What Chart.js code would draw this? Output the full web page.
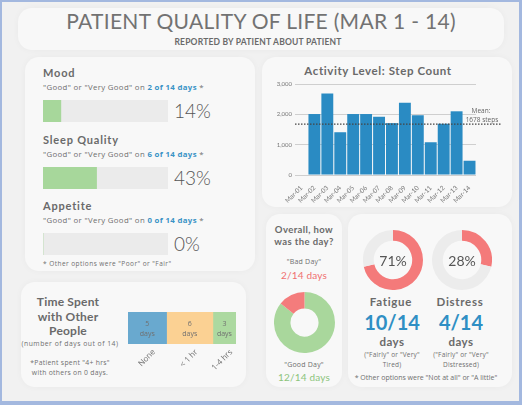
<!DOCTYPE html>
<html>
<head>
<meta charset="utf-8">
<script src="https://cdn.jsdelivr.net/npm/chart.js@4.4.0/dist/chart.umd.min.js"></script>
<style>
  html, body { margin: 0; padding: 0; }
  body { width: 522px; height: 405px; background: #a3b8df; position: relative; overflow: hidden; font-family: Lato, "Open Sans", sans-serif; }
  #page { position: absolute; left: 2px; top: 2px; width: 517px; height: 399px; background: #f1f1f1; }
  .panel { position: absolute; background: #f8f8f8; border-radius: 14px; box-shadow: 0 0 7px rgba(0,0,0,0.035); }
  .t { position: absolute; white-space: nowrap; color: #666; }
  .s { font-family: "Open Sans", sans-serif; color: #6f6f6f; }
  .c { transform: translateX(-50%); text-align: center; }
  .h { font-weight: 700; color: #6a6a6a; letter-spacing: 0.5px; }
  canvas { position: absolute; }
  .blue { color: #3a93c6; font-weight: 700; }
</style>
</head>
<body>
<div id="page"></div>
<script>
// ---- data ----
const totalDays = 14;
const ratingItems = ['Mood', 'Sleep Quality', 'Appetite'];
const ratingGoodDays = [2, 6, 0];
const ratingPct = ['14%', '43%', '0%'];

const stepDays = ['Mar-01','Mar-02','Mar-03','Mar-04','Mar-05','Mar-06','Mar-07',
                  'Mar-08','Mar-09','Mar-10','Mar-11','Mar-12','Mar-13','Mar-14'];
const stepCounts = [0, 2010, 2690, 1410, 2010, 2010, 1920, 1710, 2380, 1970, 1080, 1690, 2100, 470];
const meanSteps = 1678;

const timeSpentLabels = ['None', '< 1 hr', '1-4 hrs'];
const timeSpentDays = [5, 6, 3];
const timeSpentColors = ['#69a9cf', '#fbd193', '#acd9a0'];

const dayRatingLabels = ['"Good Day"', '"Bad Day"'];
const dayRatingDays = [12, 2];

const symptomNames = ['Fatigue', 'Distress'];
const symptomDays = [10, 4];
const symptomPct = ['71%', '28%'];
const symptomNotes = [['("Fairly" or "Very"', 'Tired)'], ['("Fairly" or "Very"', 'Distressed)']];

Chart.defaults.font.family = 'Lato';
Chart.defaults.animation = false;
Chart.defaults.plugins.legend.display = false;
Chart.defaults.plugins.tooltip.enabled = false;

const page = document.body;

function txt(html, x, y, size, extra, spacing) {
    let d = document.createElement('div');
    d.className = 't ' + (extra || '');
    d.style.left = x + 'px';
    d.style.top = y + 'px';
    d.style.fontSize = size + 'px';
    if (spacing != null) d.style.letterSpacing = spacing + 'px';
    d.innerHTML = html;
    page.appendChild(d);
    return d;
}
function panel(x, y, w, h) {
    let d = document.createElement('div');
    d.className = 'panel';
    d.style.cssText = `left:${x}px;top:${y}px;width:${w}px;height:${h}px`;
    page.appendChild(d);
}
function canvasAt(x, y, w, h) {
    let c = document.createElement('canvas');
    c.width = w; c.height = h;
    c.style.left = x + 'px'; c.style.top = y + 'px';
    c.style.width = w + 'px'; c.style.height = h + 'px';
    page.appendChild(c);
    return c;
}

// panels
panel(18, 8, 486, 42);
panel(25, 57, 230, 214);
panel(262, 57, 250, 150);
panel(21, 282, 225, 105);
panel(266, 214, 76, 173);
panel(348, 214, 164, 173);

// header
txt('PATIENT QUALITY OF LIFE (MAR 1 - 14)', 261, 8, 21, 'c', 0.3).style.color = '#727272';
txt('REPORTED BY PATIENT ABOUT PATIENT', 258, 37, 8.5, 'c h', 0.2);

// ---- ratings (mood / sleep / appetite) ----
const ratingTop = [66, 133, 199];
ratingItems.forEach((name, i) => {
    let y = ratingTop[i];
    txt(name, 43, y, 11, 'h', 0.8);
    txt('"Good" or "Very Good" on <span class="blue">' + ratingGoodDays[i] + ' of ' + totalDays + ' days</span> *', 43, y + 16, 7.8, 's', 0.35);
    let c = canvasAt(43, y + 34, 125, 22);
    new Chart(c, {
        type: 'bar',
        data: {
            labels: [name],
            datasets: [
                { data: [ratingGoodDays[i]], backgroundColor: '#a7d79b' },
                { data: [totalDays - ratingGoodDays[i]], backgroundColor: '#ebebeb' }
            ]
        },
        options: {
            indexAxis: 'y', responsive: false,
            barPercentage: 1, categoryPercentage: 1,
            layout: { padding: 0 },
            scales: {
                x: { stacked: true, display: false, min: 0, max: totalDays },
                y: { stacked: true, display: false }
            }
        }
    });
    txt(ratingPct[i], 174, y + 33, 19).style.cssText += ';color:#555;font-weight:300';
});
txt('* Other options were "Poor" or "Fair"', 43, 259, 6.5, 's', 0.45);

// ---- step count ----
txt('Activity Level: Step Count', 378, 64, 11.5, 'c h', 0.6);

const meanLine = {
    id: 'meanLine',
    afterDatasetsDraw(chart) {
        const a = chart.chartArea;
        const y = chart.scales.y.getPixelForValue(meanSteps);
        const ctx = chart.ctx;
        ctx.save();
        ctx.setLineDash([1.5, 1.5]);
        ctx.strokeStyle = '#444';
        ctx.lineWidth = 1.2;
        ctx.beginPath();
        ctx.moveTo(a.left, y);
        ctx.lineTo(a.right + 25, y);
        ctx.stroke();
        ctx.setLineDash([]);
        ctx.fillStyle = '#666';
        ctx.font = '6.5px "Open Sans"';
        ctx.textAlign = 'center';
        ctx.fillText('Mean:', a.right + 5, y - 11);
        ctx.fillText(meanSteps + ' steps', a.right + 6, y - 2);
        ctx.restore();
    }
};

new Chart(canvasAt(262, 75, 250, 128), {
    type: 'bar',
    data: {
        labels: stepDays,
        datasets: [{ data: stepCounts, backgroundColor: '#2a8bc3', barPercentage: 0.92, categoryPercentage: 1 }]
    },
    options: {
        responsive: false,
        layout: { padding: { top: 9, right: 36, left: 0, bottom: 0 } },
        scales: {
            y: {
                min: 0, max: 3000,
                ticks: { stepSize: 1000, font: { size: 6 }, color: '#777', padding: 3 },
                grid: { color: '#cfcfcf', drawTicks: false },
                border: { display: false },
                afterFit(s) { s.width = 33; }
            },
            x: {
                ticks: { font: { size: 6.5 }, color: '#777', minRotation: 45, maxRotation: 45, autoSkip: false, padding: 1 },
                grid: { display: false },
                border: { display: false },
                afterFit(s) { s.height = 28; }
            }
        }
    },
    plugins: [meanLine]
});

// ---- time spent with other people ----
txt('Time Spent<br>with Other<br>People', 68, 295, 12, 'c h', 0.2).style.lineHeight = '14.5px';
txt('(number of days out of 14)', 70, 339, 6.8, 'c s', 0.5);
txt('*Patient spent "4+ hrs"<br>with others on 0 days.', 70, 358, 6.8, 'c s', 0.3).style.lineHeight = '10px';

const segLabels = {
    id: 'segLabels',
    afterDatasetsDraw(chart) {
        const ctx = chart.ctx;
        ctx.save();
        chart.data.datasets.forEach((ds, i) => {
            const bar = chart.getDatasetMeta(i).data[0];
            const cx = (bar.x + bar.base) / 2;
            ctx.fillStyle = '#707070';
            ctx.font = '7px "Open Sans"';
            ctx.textAlign = 'center';
            ctx.fillText(String(ds.data[0]), cx, bar.y - 2);
            ctx.fillText('days', cx, bar.y + 8);
            ctx.save();
            ctx.translate(cx + 4, bar.y + bar.height / 2 + 4);
            ctx.rotate(-Math.PI / 4);
            ctx.font = '8px "Open Sans"';
            ctx.textAlign = 'right';
            ctx.textBaseline = 'top';
            ctx.fillText(ds.label, 0, 0);
            ctx.restore();
        });
        ctx.restore();
    }
};

new Chart(canvasAt(120, 304, 126, 78), {
    type: 'bar',
    data: {
        labels: ['days'],
        datasets: timeSpentLabels.map((l, i) => ({
            label: l, data: [timeSpentDays[i]], backgroundColor: timeSpentColors[i]
        }))
    },
    options: {
        indexAxis: 'y', responsive: false,
        barPercentage: 1, categoryPercentage: 1,
        layout: { padding: { left: 8, right: 10, top: 8, bottom: 38 } },
        scales: {
            x: { stacked: true, display: false, min: 0, max: totalDays },
            y: { stacked: true, display: false }
        }
    },
    plugins: [segLabels]
});

// ---- overall day rating ----
txt('Overall, how<br>was the day?', 304, 224, 9.5, 'c h', 0.4).style.lineHeight = '12px';
txt(dayRatingLabels[1], 304, 257, 7, 'c s', 0.2);
txt(dayRatingDays[1] + '/' + totalDays + ' days', 304, 269, 10, 'c', 0.2).style.color = '#f06f6f';
new Chart(canvasAt(274, 292, 61, 61), {
    type: 'doughnut',
    data: {
        labels: dayRatingLabels,
        datasets: [{ data: dayRatingDays, backgroundColor: ['#a9d79c', '#f47c7c'], borderWidth: 0 }]
    },
    options: { responsive: false, cutout: '46%', layout: { padding: 0 } }
});
txt(dayRatingLabels[0], 304, 360, 7, 'c s', 0.2);
txt(dayRatingDays[0] + '/' + totalDays + ' days', 304, 371, 10, 'c', 0.2).style.color = '#8cc47c';

// ---- fatigue / distress ----
const centerText = {
    id: 'centerText',
    afterDraw(chart, args, opts) {
        const m = chart.getDatasetMeta(0).data[0];
        const ctx = chart.ctx;
        ctx.save();
        ctx.fillStyle = '#555';
        ctx.font = '14px Lato';
        ctx.textAlign = 'center';
        ctx.textBaseline = 'middle';
        ctx.fillText(opts.text, m.x, m.y + 1);
        ctx.restore();
    }
};
const symptomX = [393, 462];
symptomNames.forEach((name, i) => {
    let cx = symptomX[i];
    new Chart(canvasAt(cx - 30, 230, 60, 60), {
        type: 'doughnut',
        data: {
            labels: ['yes', 'no'],
            datasets: [{ data: [symptomDays[i], totalDays - symptomDays[i]], backgroundColor: ['#f47a7a', '#ececec'], borderWidth: 0 }]
        },
        options: {
            responsive: false, cutout: '64%', layout: { padding: 0 },
            plugins: { centerText: { text: symptomPct[i] } }
        },
        plugins: [centerText]
    });
    txt(name, cx - 2, 295, 11.5, 'c h', 0.7);
    txt(symptomDays[i] + '/' + totalDays, cx - 1, 310, 20, 'c').style.cssText += ';color:#2f8fc4;font-weight:700';
    txt('days', cx - 1, 335, 11.5, 'c h', 0.5);
    txt(symptomNotes[i].join('<br>'), cx - 1, 350, 6.5, 'c s', 0.2).style.lineHeight = '9.5px';
});
txt('* Other options were "Not at all" or "A little"', 426, 373, 7, 'c s');
</script>
</body>
</html>
